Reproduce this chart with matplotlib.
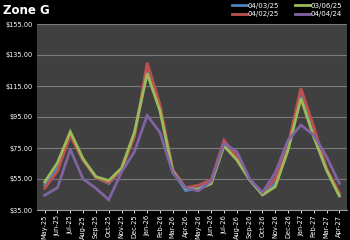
import matplotlib
matplotlib.use("Agg")
import matplotlib.pyplot as plt
from matplotlib.ticker import FuncFormatter

months = ["May-25","Jun-25","Jul-25","Aug-25","Sep-25","Oct-25","Nov-25","Dec-25",
          "Jan-26","Feb-26","Mar-26","Apr-26","May-26","Jun-26","Jul-26","Aug-26",
          "Sep-26","Oct-26","Nov-26","Dec-26","Jan-27","Feb-27","Mar-27","Apr-27"]

s_040325 = [51, 62, 84, 67, 56, 52, 61, 83, 125, 100, 60, 47.5, 49, 53.5, 78, 68, 54.5, 45.5, 52, 75, 109, 84, 61, 45]
s_040225 = [49, 60, 83, 67, 56, 52.5, 61, 82, 130, 103, 61, 49.4, 51, 54.4, 80, 69.4, 54.4, 46.2, 55, 77, 113.5, 88.7, 62, 46]
s_030625 = [53, 65.5, 85.5, 68, 56.5, 54, 62, 85, 123, 99, 60, 49, 48.4, 52, 76.3, 67.3, 54.5, 44.7, 50, 73.7, 107, 82.3, 60.8, 44]
s_040424 = [44.5, 49.4, 74, 55, 49, 41.6, 59.5, 72.5, 96, 85, 59, 49.4, 47.3, 53.7, 78, 72.7, 55, 46.2, 59, 80, 89.8, 83.4, 69.4, 52.2]

series = [("04/03/25", s_040325, "#4f81bd"),
          ("04/02/25", s_040225, "#c0504d"),
          ("03/06/25", s_030625, "#9bbb59"),
          ("04/04/24", s_040424, "#8064a2")]

fig = plt.figure(figsize=(3.5, 2.4), dpi=100, facecolor="black")
ax = fig.add_axes([37/350, 1 - 210/240, (347-37)/350, (210-24)/240])
ax.set_facecolor("#404040")

x = list(range(len(months)))
for name, vals, col in series:
    ax.plot(x, vals, color=col, lw=2.0, label=name, solid_joinstyle="miter")

ax.set_xlim(-0.6, len(months) - 0.4)
ax.set_ylim(35, 155)
ax.set_yticks(range(35, 156, 20))
ax.yaxis.set_major_formatter(FuncFormatter(lambda v, p: f"${v:.2f}"))
ax.grid(axis="y", color="#7a7a7a", lw=0.8)
ax.set_axisbelow(True)
ax.set_xticks(x)
ax.set_xticklabels(months, rotation=90)
ax.tick_params(axis="both", colors="white", labelsize=4.8, length=2, width=0.6)
ax.tick_params(axis="y", length=0, pad=3)
ax.tick_params(axis="x", pad=1.5)
for s in ax.spines.values():
    s.set_visible(False)
ax.spines["bottom"].set_visible(True)
ax.spines["bottom"].set_color("#9a9a9a")

fig.text(3/350, 1 - 10/240, "Zone G", color="white", fontsize=8.5, fontweight="bold", va="center", ha="left")

leg = fig.legend(loc="upper right", bbox_to_anchor=(0.995, 1.015), ncol=2, frameon=False,
                 fontsize=5, labelcolor="white", handlelength=2.2, columnspacing=2.2,
                 handletextpad=0.1, labelspacing=0.35)

fig.savefig("out.png", dpi=100, facecolor="black")
